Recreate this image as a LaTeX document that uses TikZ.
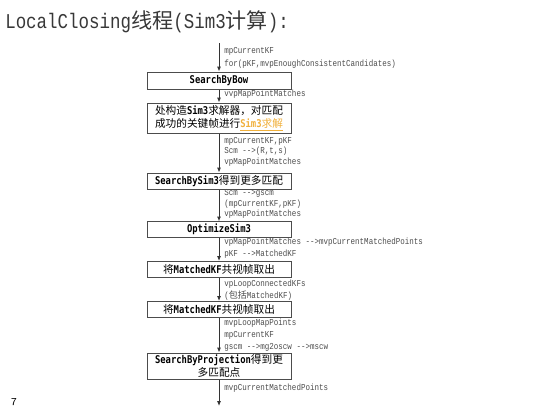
\documentclass[tikz,border=0pt]{standalone}
\usepackage{fontspec}
\setmainfont{Liberation Mono}
\newfontfamily\cjk{Noto Sans CJK SC}
\newfontfamily\monofont[FakeStretch=0.83]{Liberation Mono}
\newfontfamily\boxfont[FakeStretch=0.83]{DejaVu Sans Mono}
\usetikzlibrary{arrows.meta}
\definecolor{linkcol}{RGB}{240,176,60}
\newcommand\lto{-\kern0pt->}
\newcommand\hz[1]{{\cjk\mdseries #1}}

\begin{document}
\begin{tikzpicture}[x=0.75pt,y=-0.75pt]
  \tikzset{
    flow/.style={line width=0.7pt, draw=black!80, -{Latex[length=3.6pt,width=3pt]}},
    stage/.style={draw=black!70, line width=0.75pt, minimum width=108pt, inner sep=1pt,
      align=center, font=\boxfont\bfseries\fontsize{8}{9.75}\selectfont},
    note/.style={anchor=west, inner sep=0pt, text=black!70,
      font=\monofont\fontsize{6.8}{8}\selectfont}
  }
  \useasboundingbox (0,0) rectangle (544,414);

  % title and page number
  \node[anchor=west, inner sep=0pt, text=black!78, font=\monofont\fontsize{15.8}{18}\selectfont]
    (title) at (5,22) {LocalClosing\hz{线程}(Sim3\hz{计算}):};
  \node[inner sep=0pt, font=\sffamily\fontsize{8}{9}\selectfont] (page) at (14,402) {7};

  % stages
  \node[stage, minimum height=12.75pt] (bow) at (219,80.5) {SearchByBow};
  \node[stage, minimum height=22.5pt] (solver) at (219,118)
    {\hz{处构造}Sim3\hz{求解器，对匹配}\\
     \hz{成功的关键帧进行}{\color{linkcol}\underline{Sim3\hz{求解}}}};
  \node[stage, minimum height=12pt] (bysim) at (219,181) {SearchBySim3\hz{得到更多匹配}};
  \node[stage, minimum height=11.5pt] (opt) at (219,229.5) {OptimizeSim3};
  \node[stage, minimum height=12pt] (covis) at (219,269.5) {\hz{将}MatchedKF\hz{共视帧取出}};
  \node[stage, minimum height=12pt] (covisb) at (219,309.5) {\hz{将}MatchedKF\hz{共视帧取出}};
  \node[stage, minimum height=19.5pt] (proj) at (219,366)
    {SearchByProjection\hz{得到更}\\\hz{多匹配点}};

  \coordinate (start) at (219,43);
  \coordinate (stop) at (219,406);

  % connectors
  \draw[flow] (start) -- (bow);
  \draw[flow] (bow) -- (solver);
  \draw[flow] (solver) -- (bysim);
  \draw[flow] (bysim) -- (opt);
  \draw[flow] (opt) -- (covis);
  \draw[flow] (covis) -- (covisb);
  \draw[flow] (covisb) -- (proj);
  \draw[flow] (proj) -- (stop);

  % data passed along
  \node[note] (n1) at (224,51) {mpCurrentKF};
  \node[note] (n2) at (224,64) {for(pKF,mvpEnoughConsistentCandidates)};
  \node[note] (n3) at (224,94.5) {vvpMapPointMatches};
  \node[note] (n4) at (224,141) {mpCurrentKF,pKF};
  \node[note] (n5) at (224,151) {Scm \lto(R,t,s)};
  \node[note] (n6) at (224,162) {vpMapPointMatches};
  \node[note] (n7) at (224,193.5) {Scm \lto gscm};
  \node[note] (n8) at (224,204) {(mpCurrentKF,pKF)};
  \node[note] (n9) at (224,214.5) {vpMapPointMatches};
  \node[note] (n10) at (224,242.5) {vpMapPointMatches \lto mvpCurrentMatchedPoints};
  \node[note] (n11) at (224,254.5) {pKF \lto MatchedKF};
  \node[note] (n12) at (224,284.5) {vpLoopConnectedKFs};
  \node[note] (n13) at (224,296) {(\hz{包括}MatchedKF)};
  \node[note] (n14) at (224,323.5) {mvpLoopMapPoints};
  \node[note] (n15) at (224,335) {mpCurrentKF};
  \node[note] (n16) at (224,347) {gscm \lto mg2oscw \lto mscw};
  \node[note] (n17) at (224,388) {mvpCurrentMatchedPoints};
\end{tikzpicture}
\end{document}
